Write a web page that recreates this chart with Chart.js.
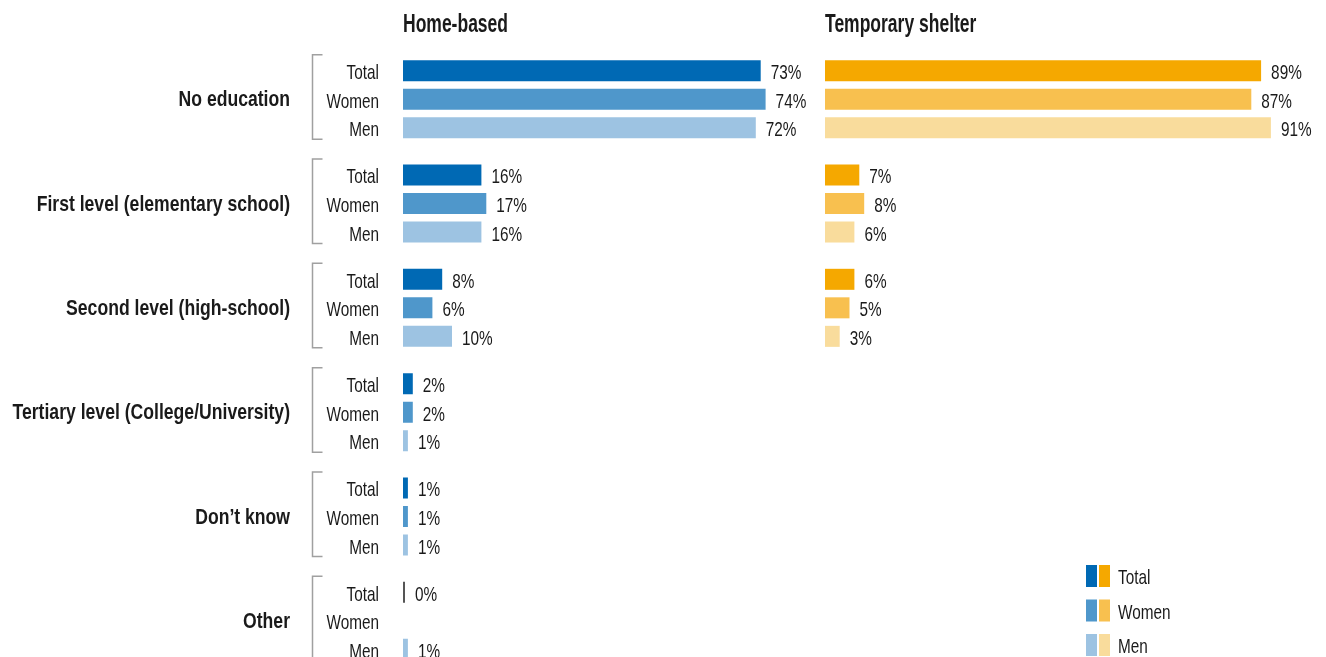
<!DOCTYPE html>
<html>
<head>
<meta charset="utf-8">
<script src="https://cdn.jsdelivr.net/npm/chart.js@4/dist/chart.umd.min.js"></script>
<style>
html, body { margin: 0; padding: 0; background: #fff; overflow: hidden; }
#wrap { position: relative; width: 1326px; height: 657px; overflow: hidden; }
.box { position: absolute; top: 0; height: 690px; }
#home-box { left: 0; width: 825px; }
#shelter-box { left: 825px; width: 501px; }
</style>
</head>
<body>
<div id="wrap">
  <div class="box" id="home-box"><canvas id="home-chart"></canvas></div>
  <div class="box" id="shelter-box"><canvas id="shelter-chart"></canvas></div>
</div>
<script>
// data
const groups = [
  "No education",
  "First level (elementary school)",
  "Second level (high-school)",
  "Tertiary level (College/University)",
  "Don’t know",
  "Other"
];
const subgroups = ["Total", "Women", "Men"];

const homeTotal = [73, 16, 8, 2, 1, 0];
const homeWomen = [74, 17, 6, 2, 1, null];
const homeMen = [72, 16, 10, 1, 1, 1];

const shelterTotal = [89, 7, 6, null, null, null];
const shelterWomen = [87, 8, 5, null, null, null];
const shelterMen = [91, 6, 3, null, null, null];

const homeColors = ["#0069b4", "#4f97cb", "#9dc3e2"];
const shelterColors = ["#f5a800", "#f8c04f", "#f9dc9c"];

const FONT = "'Liberation Sans', Arial, sans-serif";
const TEXT = "#1a1a1a";

// 細身フォントの代わりに横方向へ縮めて描く
function squeezeText(ctx, text, x, y, align, squeeze) {
  ctx.save();
  ctx.translate(x, y);
  ctx.scale(squeeze, 1);
  ctx.textAlign = align;
  ctx.textBaseline = "alphabetic";
  ctx.fillText(text, 0, 0);
  ctx.restore();
}

// 数値ラベル（バーの右）
const valueLabels = {
  id: "valueLabels",
  afterDatasetsDraw(chart) {
    const ctx = chart.ctx;
    ctx.save();
    ctx.font = "21px " + FONT;
    ctx.fillStyle = TEXT;
    chart.data.datasets.forEach((ds, di) => {
      const meta = chart.getDatasetMeta(di);
      meta.data.forEach((bar, i) => {
        const v = ds.data[i];
        if (v === null || v === undefined) return;
        squeezeText(ctx, v + "%", bar.x + 10, bar.y + 8.5, "left", 0.73);
      });
    });
    ctx.restore();
  }
};

// パネルタイトル
const panelTitle = {
  id: "panelTitle",
  afterDraw(chart, args, opts) {
    const ctx = chart.ctx;
    ctx.save();
    ctx.font = "bold 25px " + FONT;
    ctx.fillStyle = TEXT;
    squeezeText(ctx, opts.text, chart.chartArea.left, 32, "left", 0.70);
    ctx.restore();
  }
};

// 左側のグループ名・サブラベル・括弧
const rowLabels = {
  id: "rowLabels",
  afterDraw(chart) {
    const ctx = chart.ctx;
    const yScale = chart.scales.y;
    ctx.save();
    ctx.fillStyle = TEXT;
    groups.forEach((g, i) => {
      const center = yScale.getPixelForValue(i);
      ctx.font = "bold 22px " + FONT;
      squeezeText(ctx, g, 290, center + 7, "right", 0.80);

      ctx.font = "21px " + FONT;
      const bars = subgroups.map((s, d) => chart.getDatasetMeta(d).data[i]);
      bars.forEach((bar, d) => {
        squeezeText(ctx, subgroups[d], 379, bar.y + 8.5, "right", 0.73);
      });

      const top = bars[0].y - bars[0].height / 2 - 5.5;
      const bottom = bars[2].y + bars[2].height / 2 + 1;
      ctx.strokeStyle = "#a0a0a0";
      ctx.lineWidth = 1.5;
      ctx.beginPath();
      ctx.moveTo(322.5, top);
      ctx.lineTo(312.5, top);
      ctx.lineTo(312.5, bottom);
      ctx.lineTo(322.5, bottom);
      ctx.stroke();
    });
    ctx.restore();
  }
};

// 凡例（2色セット）
const dualLegend = {
  id: "dualLegend",
  afterDraw(chart) {
    const ctx = chart.ctx;
    ctx.save();
    ctx.font = "21px " + FONT;
    subgroups.forEach((s, d) => {
      const y = 576 + d * 34.5;
      ctx.fillStyle = homeColors[d];
      ctx.fillRect(261, y - 11, 11, 22);
      ctx.fillStyle = shelterColors[d];
      ctx.fillRect(274, y - 11, 11, 22);
      ctx.fillStyle = TEXT;
      squeezeText(ctx, s, 293, y + 8, "left", 0.73);
    });
    ctx.restore();
  }
};

function makeDatasets(series, colors) {
  return series.map((data, d) => ({
    label: subgroups[d],
    data: data,
    backgroundColor: c => (c.raw === 0 ? "#555555" : colors[d]),
    borderWidth: 0,
    minBarLength: 2,
    categoryPercentage: 0.82,
    barPercentage: 0.737
  }));
}

function makeChart(id, series, colors, title, max, padding, extraPlugins) {
  return new Chart(document.getElementById(id), {
    type: "bar",
    data: { labels: groups, datasets: makeDatasets(series, colors) },
    options: {
      indexAxis: "y",
      responsive: true,
      maintainAspectRatio: false,
      animation: false,
      layout: { padding: padding },
      scales: {
        x: { display: false, min: 0, max: max },
        y: { display: false, type: "category" }
      },
      plugins: {
        legend: { display: false },
        tooltip: { enabled: false },
        panelTitle: { text: title }
      }
    },
    plugins: [valueLabels, panelTitle].concat(extraPlugins)
  });
}

makeChart("home-chart", [homeTotal, homeWomen, homeMen], homeColors, "Home-based", 85,
  { left: 403, right: 5.5, top: 47, bottom: 17 }, [rowLabels]);

makeChart("shelter-chart", [shelterTotal, shelterWomen, shelterMen], shelterColors, "Temporary shelter", 100,
  { left: 0, right: 11, top: 47, bottom: 17 }, [dualLegend]);
</script>
</body>
</html>
